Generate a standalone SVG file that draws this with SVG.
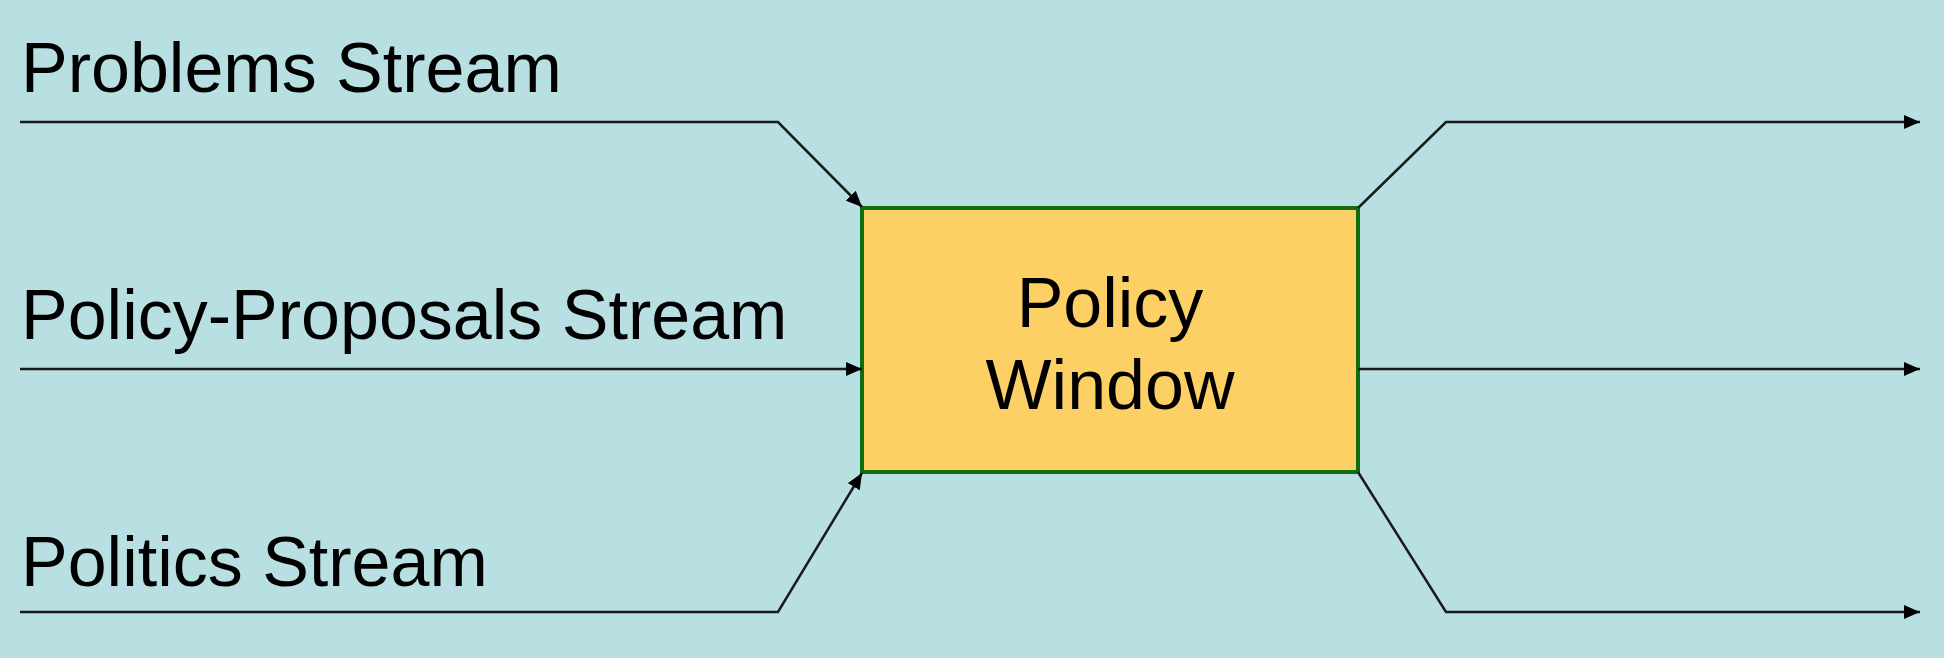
<svg xmlns="http://www.w3.org/2000/svg" width="1944" height="658" viewBox="0 0 1944 658">
<defs>
<style>
.lbl{font-family:"Liberation Sans",Arial,sans-serif;font-size:70px;fill:#000}
.conn{fill:none;stroke:#1a1a1a;stroke-width:2.5;stroke-linejoin:miter}
</style>
<marker id="arr" viewBox="0 0 16 14" refX="16" refY="7" markerWidth="16" markerHeight="14" markerUnits="userSpaceOnUse" orient="auto">
<path d="M0,0 L16,7 L0,14 z" fill="#000"/>
</marker>
</defs>
<rect width="1944" height="658" fill="#B8E0E2"/>
<g id="labels">
<text class="lbl" x="21" y="92">Problems Stream</text>
<text class="lbl" x="21" y="339">Policy-Proposals Stream</text>
<text class="lbl" x="21" y="586">Politics Stream</text>
</g>
<g id="policy-window">
<rect x="862" y="208" width="496" height="264" fill="#FDD066" stroke="#0E6E0E" stroke-width="4"/>
<text class="lbl" x="1110" y="327" text-anchor="middle">Policy</text>
<text class="lbl" x="1110" y="409" text-anchor="middle">Window</text>
</g>
<g id="connectors">
<polyline class="conn" points="20,122 778,122 862,207" marker-end="url(#arr)"/>
<polyline class="conn" points="20,369 862,369" marker-end="url(#arr)"/>
<polyline class="conn" points="20,612 778,612 862,473" marker-end="url(#arr)"/>
<polyline class="conn" points="1358,208 1446,122 1920,122" marker-end="url(#arr)"/>
<polyline class="conn" points="1358,369 1920,369" marker-end="url(#arr)"/>
<polyline class="conn" points="1358,472 1446,612 1920,612" marker-end="url(#arr)"/>
</g>
</svg>
